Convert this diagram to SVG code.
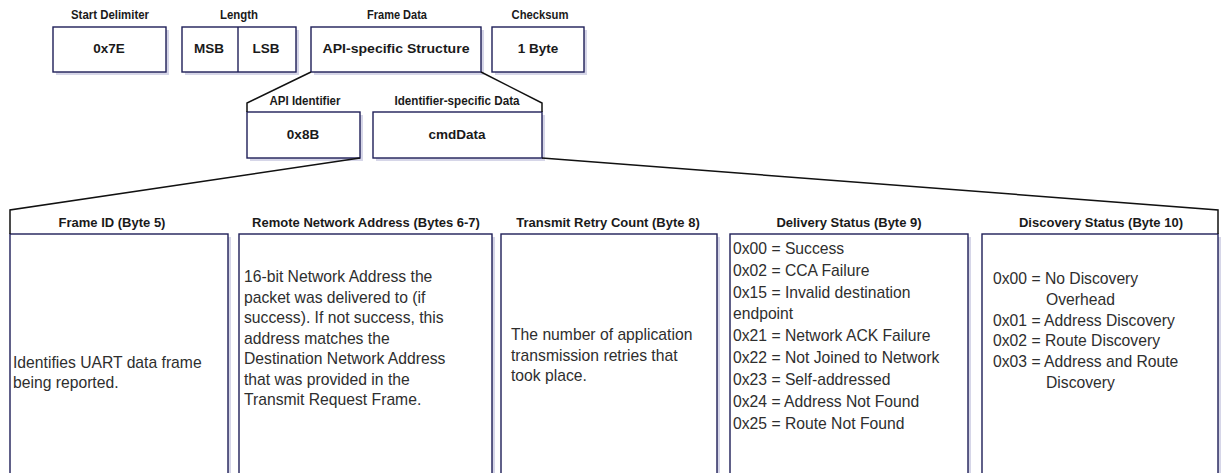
<svg xmlns="http://www.w3.org/2000/svg" width="1224" height="473" viewBox="0 0 1224 473">
  <style>
    .box { fill: #ffffff; stroke: #1f1f58; stroke-width: 1.4; }
    .shadow { fill: #d6d6e8; stroke: none; }
    .cap { font-family: "Liberation Sans", Arial, sans-serif; font-weight: bold; font-size: 13px; fill: #1a1a1a; text-anchor: middle; }
    .val { font-family: "Liberation Sans", Arial, sans-serif; font-weight: bold; font-size: 13.5px; fill: #1a1a1a; text-anchor: middle; }
    .hdr { font-family: "Liberation Sans", Arial, sans-serif; font-weight: bold; font-size: 13px; fill: #1a1a1a; text-anchor: middle; }
    .body { font-family: "Liberation Sans", Arial, sans-serif; font-size: 15.7px; fill: #2e2e2e; }
    .link { fill: none; stroke: #111111; stroke-width: 1.5; }
  </style>

  <rect width="1224" height="473" fill="#ffffff"/>

  <!-- API frame: top row -->
  <g id="start-delimiter">
    <text class="cap" x="110" y="18.5" textLength="78" lengthAdjust="spacingAndGlyphs">Start Delimiter</text>
    <rect class="shadow" x="56" y="30" width="113" height="45"/>
    <rect class="box" x="53" y="27" width="113" height="45"/>
    <text class="val" x="109" y="53">0x7E</text>
  </g>

  <g id="length">
    <text class="cap" x="239" y="18.5" textLength="38" lengthAdjust="spacingAndGlyphs">Length</text>
    <rect class="shadow" x="185" y="30" width="114" height="45"/>
    <rect class="box" x="182" y="27" width="114" height="45"/>
    <line x1="238" y1="27" x2="238" y2="72" stroke="#1f1f58" stroke-width="1.4"/>
    <text class="val" x="209" y="53">MSB</text>
    <text class="val" x="266" y="53">LSB</text>
  </g>

  <g id="frame-data">
    <text class="cap" x="397" y="18.5" textLength="60" lengthAdjust="spacingAndGlyphs">Frame Data</text>
    <rect class="shadow" x="314" y="30" width="170" height="45"/>
    <rect class="box" x="311" y="27" width="170" height="45"/>
    <text class="val" x="396" y="53" textLength="147" lengthAdjust="spacingAndGlyphs">API-specific Structure</text>
  </g>

  <g id="checksum">
    <text class="cap" x="540" y="18.5" textLength="57" lengthAdjust="spacingAndGlyphs">Checksum</text>
    <rect class="shadow" x="495" y="30" width="92" height="45"/>
    <rect class="box" x="492" y="27" width="92" height="45"/>
    <text class="val" x="538" y="53">1 Byte</text>
  </g>

  <!-- Frame data breakdown -->
  <g id="api-identifier">
    <text class="cap" x="305" y="104.5" textLength="71" lengthAdjust="spacingAndGlyphs">API Identifier</text>
    <rect class="shadow" x="250" y="115" width="113" height="46"/>
    <rect class="box" x="247" y="112" width="113" height="46"/>
    <text class="val" x="303" y="139">0x8B</text>
  </g>

  <g id="identifier-data">
    <text class="cap" x="457" y="104.5" textLength="125" lengthAdjust="spacingAndGlyphs">Identifier-specific Data</text>
    <rect class="shadow" x="376" y="115" width="169" height="46"/>
    <rect class="box" x="373" y="112" width="169" height="46"/>
    <text class="val" x="457" y="139">cmdData</text>
  </g>

  <!-- cmdData fields -->
  <g id="frame-id">
    <text class="hdr" x="112" y="227">Frame ID (Byte 5)</text>
    <rect class="shadow" x="13" y="237" width="218" height="250"/>
    <rect class="box" x="10" y="234" width="218" height="250"/>
    <text class="body">
      <tspan x="13" y="368">Identifies UART data frame</tspan>
      <tspan x="13" y="388">being reported.</tspan>
    </text>
  </g>

  <g id="remote-address">
    <text class="hdr" x="366" y="227">Remote Network Address (Bytes 6-7)</text>
    <rect class="shadow" x="242" y="237" width="253" height="250"/>
    <rect class="box" x="239" y="234" width="253" height="250"/>
    <text class="body">
      <tspan x="244" y="282">16-bit Network Address the</tspan>
      <tspan x="244" y="302.5">packet was delivered to (if</tspan>
      <tspan x="244" y="323">success). If not success, this</tspan>
      <tspan x="244" y="343.5">address matches the</tspan>
      <tspan x="244" y="364">Destination Network Address</tspan>
      <tspan x="244" y="384.5">that was provided in the</tspan>
      <tspan x="244" y="405">Transmit Request Frame.</tspan>
    </text>
  </g>

  <g id="retry-count">
    <text class="hdr" x="608" y="227">Transmit Retry Count (Byte 8)</text>
    <rect class="shadow" x="504" y="237" width="216" height="250"/>
    <rect class="box" x="501" y="234" width="216" height="250"/>
    <text class="body">
      <tspan x="511" y="340">The number of application</tspan>
      <tspan x="511" y="360.5">transmission retries that</tspan>
      <tspan x="511" y="381">took place.</tspan>
    </text>
  </g>

  <g id="delivery-status">
    <text class="hdr" x="849" y="227">Delivery Status (Byte 9)</text>
    <rect class="shadow" x="733" y="237" width="238" height="250"/>
    <rect class="box" x="730" y="234" width="238" height="250"/>
    <text class="body">
      <tspan x="733" y="253.5">0x00 = Success</tspan>
      <tspan x="733" y="275.5">0x02 = CCA Failure</tspan>
      <tspan x="733" y="297.5">0x15 = Invalid destination</tspan>
      <tspan x="733" y="318.5">endpoint</tspan>
      <tspan x="733" y="340.5">0x21 = Network ACK Failure</tspan>
      <tspan x="733" y="362.5">0x22 = Not Joined to Network</tspan>
      <tspan x="733" y="384.5">0x23 = Self-addressed</tspan>
      <tspan x="733" y="406.5">0x24 = Address Not Found</tspan>
      <tspan x="733" y="428.5">0x25 = Route Not Found</tspan>
    </text>
  </g>

  <g id="discovery-status">
    <text class="hdr" x="1101" y="227">Discovery Status (Byte 10)</text>
    <rect class="shadow" x="985" y="237" width="236" height="250"/>
    <rect class="box" x="982" y="234" width="236" height="250"/>
    <text class="body">
      <tspan x="993" y="284">0x00 = No Discovery</tspan>
      <tspan x="1046" y="304.5">Overhead</tspan>
      <tspan x="993" y="325.5">0x01 = Address Discovery</tspan>
      <tspan x="993" y="346">0x02 = Route Discovery</tspan>
      <tspan x="993" y="367">0x03 = Address and Route</tspan>
      <tspan x="1046" y="387.5">Discovery</tspan>
    </text>
  </g>

  <!-- expansion lines -->
  <g id="connectors">
    <polyline class="link" points="311,72 247,103 247,112"/>
    <polyline class="link" points="481,72 542,103 542,112"/>
    <polyline class="link" points="360,158 10,210 10,234"/>
    <polyline class="link" points="542,158 1218,210 1218,234"/>
  </g>
</svg>
